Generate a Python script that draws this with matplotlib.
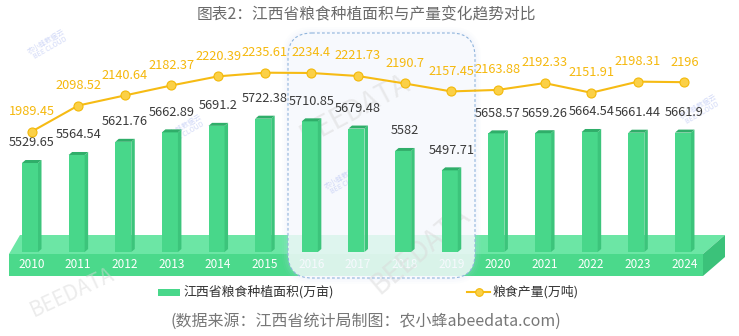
import matplotlib.pyplot as plt
from matplotlib.patches import Polygon, Rectangle, FancyBboxPatch
from matplotlib.lines import Line2D
from matplotlib.transforms import Affine2D

plt.rcParams['font.family'] = ['Noto Sans CJK SC', 'DejaVu Sans']

years = ['2010', '2011', '2012', '2013', '2014', '2015', '2016', '2017',
         '2018', '2019', '2020', '2021', '2022', '2023', '2024']
area = [5529.65, 5564.54, 5621.76, 5662.89, 5691.2, 5722.38, 5710.85, 5679.48,
        5582, 5497.71, 5658.57, 5659.26, 5664.54, 5661.44, 5661.9]
output = [1989.45, 2098.52, 2140.64, 2182.37, 2220.39, 2235.61, 2234.4, 2221.73,
          2190.7, 2157.45, 2163.88, 2192.33, 2151.91, 2198.31, 2196]
area_name = '江西省粮食种植面积(万亩)'
output_name = '粮食产量(万吨)'

W, H = 739, 336
fig = plt.figure(figsize=(W / 100, H / 100), dpi=100)
ax = fig.add_axes([0, 0, 1, 1])
ax.set_xlim(-30 / 46.64, (W - 30) / 46.64)
ax.set_ylim(4777.5, 6238.4)
ax.axis('off')

# pixel transform (origin top-left) for the decorations
px = Affine2D().scale(1, -1).translate(0, H)

# scale helpers: data units per pixel
ux = (ax.get_xlim()[1] - ax.get_xlim()[0]) / W
uy = (ax.get_ylim()[1] - ax.get_ylim()[0]) / H

# base platform
ax.add_patch(Polygon([(9, 254), (703, 254), (725, 235), (20, 235)], closed=True,
                     transform=px, fc='#6ce6a5', ec='none', zorder=1))
ax.add_patch(Rectangle((9, 254), 694, 22, transform=px, fc='#4bd98b', ec='none', zorder=1))
ax.add_patch(Polygon([(703, 254), (725, 235), (725, 257), (703, 276)], closed=True,
                     transform=px, fc='#3bc27a', ec='none', zorder=1))

x = list(range(len(years)))
for i, yr in zip(x, years):
    ax.text(i + 1.5 * ux, 4777.5 + (H - 265) * uy, yr, ha='center', va='center',
            color='white', fontsize=8.5, zorder=1.5)

# highlighted period box
for k, a in [(6, 0.04), (4, 0.06), (2, 0.08)]:
    ax.add_patch(FancyBboxPatch((288 - k, 33 - k), 187 + 2 * k, 245 + 2 * k,
                                boxstyle='round,pad=0,rounding_size=%d' % (24 + k),
                                transform=px, fc='#c9d8f2', ec='none', alpha=a, zorder=2))
ax.add_patch(FancyBboxPatch((288, 33), 187, 245, boxstyle='round,pad=0,rounding_size=24',
                            transform=px, fc='#f8fafe', ec='none', alpha=0.8, zorder=2))
ax.add_patch(FancyBboxPatch((288, 33), 187, 245, boxstyle='round,pad=0,rounding_size=24',
                            transform=px, fc='none', ec='#8fb4dc', lw=0.8,
                            ls=(0, (2.5, 2)), zorder=2.2))

# watermarks
for (wx, wy, rot, fs) in [(355, 110, 28, 20), (420, 250, 40, 20), (72, 292, 25, 15)]:
    ax.text(wx, wy, 'BEEDATA', transform=px, rotation=rot, fontsize=fs, color='#d9d9d9',
            alpha=0.5, ha='center', va='center', zorder=2.1)
for (wx, wy) in [(185, 130), (345, 180), (700, 110), (48, 45)]:
    ax.text(wx, wy, '农小蜂数据云\nBEE CLOUD', transform=px, rotation=30, fontsize=5,
            color='#aab8f0', alpha=0.55, ha='center', va='center', zorder=2.1,
            linespacing=0.9)

# 3D bars
base = 5142.7
bw = 16 * ux
dx, dy = 3.5 * ux, 3 * uy
ax.bar(x, [v - base for v in area], bottom=base, width=bw, color='#48d78a', zorder=3)
for i, v in zip(x, area):
    r = i + bw / 2
    ax.add_patch(Polygon([(r, base), (r, v), (r + dx, v + dy), (r + dx, base + dy)],
                         closed=True, fc='#3cc47b', ec='none', zorder=3))
    ax.add_patch(Polygon([(i - bw / 2, v), (r, v), (r + dx, v + dy), (i - bw / 2 + dx, v + dy)],
                         closed=True, fc='#2fae69', ec='none', zorder=3))
    ax.annotate(f'{v:g}', (i + 1.5 * ux, v), xytext=(0, 14.5), textcoords='offset points',
                ha='center', va='center', fontsize=9.2, color='#3a3a3a', zorder=5)

# production line
ax2 = ax.twinx()
ax2.set_position([0, 0, 1, 1])
ax2.set_ylim(1137.1, 2538.9)
ax2.axis('off')
xl = [i + 1.5 * ux for i in x]
ax2.plot(xl, output, color='#f6bb14', lw=1.5, marker='o', ms=6.5,
         mfc='#fbd047', mec='#f3b90a', mew=0.8, zorder=4)
for i, v in zip(xl, output):
    ax2.annotate(f'{v:g}', (i, v), xytext=(0, 14.5), textcoords='offset points',
                 ha='center', va='center', fontsize=9.2, color='#f5b80c', zorder=5)

# title, legend, source
fig.text(0.4953, 1 - 15 / H, '图表2：江西省粮食种植面积与产量变化趋势对比', ha='center',
         va='center', fontsize=11.3, color='#6a6a6a')
fig.add_artist(Rectangle((158, 289), 22, 7, transform=px, fc='#48d78a', ec='none'))
fig.text(183 / W, 1 - 292 / H, area_name, ha='left', va='center', fontsize=9.3, color='#333333')
fig.add_artist(Line2D([467, 490], [292, 292], transform=px, color='#f6bb14', lw=1.5))
fig.add_artist(Line2D([478.5], [292], transform=px, marker='o', ms=5.5,
                      mfc='#fbd047', mec='#f3b90a', mew=0.8))
fig.text(493 / W, 1 - 292 / H, output_name, ha='left', va='center', fontsize=9.3, color='#333333')
fig.text(366 / W, 1 - 321 / H, '(数据来源：江西省统计局制图：农小蜂abeedata.com)',
         ha='center', va='center', fontsize=11.5, color='#777777')

fig.savefig('out.png', dpi=100)
